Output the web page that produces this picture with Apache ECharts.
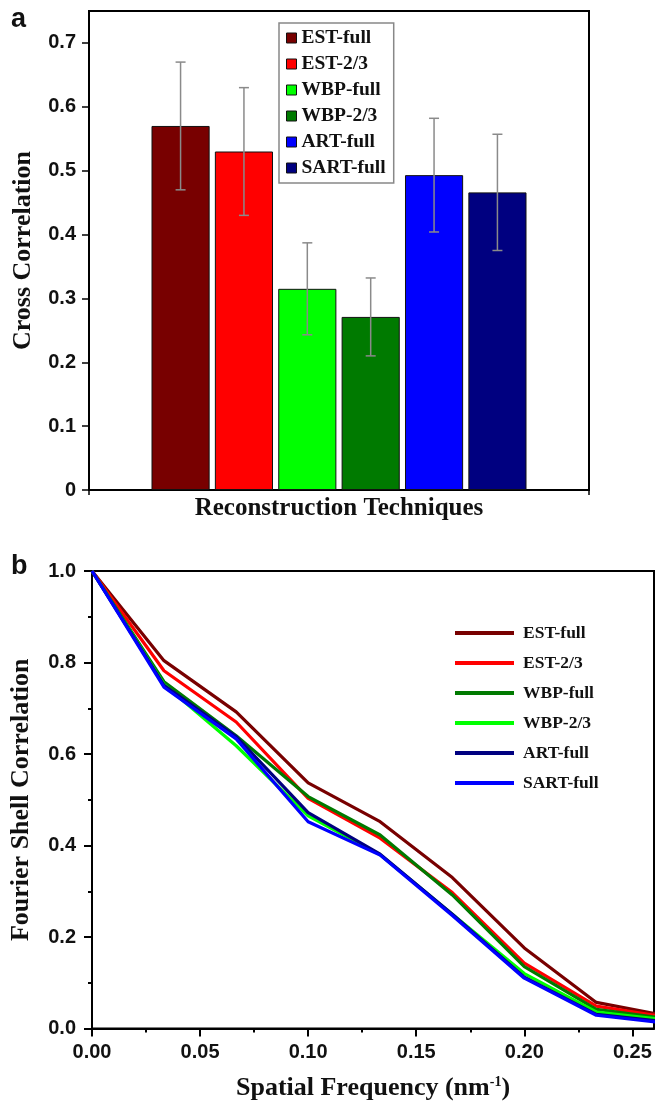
<!DOCTYPE html>
<html>
<head>
<meta charset="utf-8">
<script src="https://cdn.jsdelivr.net/npm/echarts@6/dist/echarts.min.js"></script>
<style>
html,body{margin:0;padding:0;background:#fff;}
#chart{width:655px;height:1104px;}
</style>
</head>
<body>
<div id="chart"></div>
<script>
// ---- Panel a data ----
const barNames = ['EST-full', 'EST-2/3', 'WBP-full', 'WBP-2/3', 'ART-full', 'SART-full'];
const barValues = [0.570, 0.530, 0.315, 0.271, 0.493, 0.466];
const barErrors = [0.100, 0.100, 0.072, 0.061, 0.089, 0.091];
const yTicksA = [0, 0.1, 0.2, 0.3, 0.4, 0.5, 0.6, 0.7];

// ---- Panel b data ----
const lineNames = ['EST-full', 'EST-2/3', 'WBP-full', 'WBP-2/3', 'ART-full', 'SART-full'];
const freq = [0, 0.0333, 0.0667, 0.1, 0.1333, 0.1667, 0.2, 0.2333, 0.2667];
const fscESTfull  = [1.0, 0.804, 0.692, 0.537, 0.452, 0.330, 0.176, 0.057, 0.027];
const fscEST23    = [1.0, 0.782, 0.670, 0.503, 0.416, 0.297, 0.143, 0.049, 0.024];
const fscWBPfull  = [1.0, 0.758, 0.640, 0.507, 0.423, 0.292, 0.135, 0.042, 0.021];
const fscWBP23    = [1.0, 0.752, 0.618, 0.465, 0.380, 0.250, 0.120, 0.036, 0.018];
const fscARTfull  = [1.0, 0.750, 0.638, 0.472, 0.381, 0.250, 0.112, 0.031, 0.014];
const fscSARTfull = [1.0, 0.746, 0.633, 0.452, 0.379, 0.247, 0.110, 0.029, 0.011];
const xTicksB = [0, 0.05, 0.10, 0.15, 0.20, 0.25];

// ---- styles ----
const barColors = ['#780000', '#ff0000', '#00ff00', '#007a00', '#0000ff', '#000080'];
const lineColors = ['#780000', '#ff0000', '#007a00', '#00ff00', '#000080', '#0000ff'];
const SERIF = "'Liberation Serif', 'Times New Roman', serif";
const SANS = "'Liberation Sans', Arial, sans-serif";
const BAR_GAP = 0.09, CAT_GAP = 0.25;

const fscSeries = [fscESTfull, fscEST23, fscWBPfull, fscWBP23, fscARTfull, fscSARTfull];

const chart = echarts.init(document.getElementById('chart'), null, {renderer: 'canvas'});

const series = [];
barNames.forEach((n, i) => {
  series.push({
    name: n, type: 'bar', xAxisIndex: 0, yAxisIndex: 0,
    data: [barValues[i]],
    barGap: (BAR_GAP * 100) + '%', barCategoryGap: (CAT_GAP * 100) + '%',
    itemStyle: {color: barColors[i], borderColor: '#111', borderWidth: 1},
    emphasis: {disabled: true}
  });
});
series.push({
  name: 'errors', type: 'custom', xAxisIndex: 0, yAxisIndex: 0, z: 5,
  data: barValues.map((v, i) => [0, v, barErrors[i], i]),
  renderItem: function (params, api) {
    const idx = api.value(3);
    const n = barNames.length;
    const center = api.coord([api.value(0), api.value(1)]);
    const band = api.size([1, 0])[0];
    const used = band * (1 - CAT_GAP);
    const bw = used / (n + (n - 1) * BAR_GAP);
    const x = center[0] - used / 2 + idx * bw * (1 + BAR_GAP) + bw / 2;
    const hi = api.coord([api.value(0), api.value(1) + api.value(2)])[1];
    const lo = api.coord([api.value(0), api.value(1) - api.value(2)])[1];
    const st = {stroke: '#8a8a8a', lineWidth: 1.5};
    return {type: 'group', children: [
      {type: 'line', shape: {x1: x, y1: hi, x2: x, y2: lo}, style: st},
      {type: 'line', shape: {x1: x - 5, y1: hi, x2: x + 5, y2: hi}, style: st},
      {type: 'line', shape: {x1: x - 5, y1: lo, x2: x + 5, y2: lo}, style: st}
    ]};
  }
});
lineNames.forEach((n, i) => {
  series.push({
    name: n, type: 'line', xAxisIndex: 1, yAxisIndex: 1,
    data: freq.map((f, j) => [f, fscSeries[i][j]]),
    symbol: 'none', lineStyle: {color: lineColors[i], width: 3.2},
    itemStyle: {color: lineColors[i], borderWidth: 0},
    emphasis: {disabled: true}
  });
});

const axisLabelStyle = {fontFamily: SANS, fontWeight: 'bold', fontSize: 20, color: '#111'};
const nameStyle = {fontFamily: SERIF, fontWeight: 'bold', fontSize: 26, color: '#111'};

const option = {
  animation: false,
  backgroundColor: '#fff',
  graphic: [
    {type: 'text', left: 11, top: 6, style: {text: 'a', font: 'bold 27px ' + SANS, fill: '#111'}},
    {type: 'text', left: 11, top: 553, style: {text: 'b', font: 'bold 27px ' + SANS, fill: '#111'}}
  ],
  grid: [
    {left: 89, top: 11, width: 500, height: 479, show: true, borderColor: '#000', borderWidth: 2, backgroundColor: 'transparent'},
    {left: 92, top: 571, width: 562, height: 457.5, show: true, borderColor: '#000', borderWidth: 2, backgroundColor: 'transparent'}
  ],
  legend: [
    {
      data: barNames.map((n, i) => ({name: n, itemStyle: {color: barColors[i], borderColor: '#111', borderWidth: 1}})),
      orient: 'vertical', left: 279, top: 23,
      itemWidth: 10, itemHeight: 10, itemGap: 6, icon: 'rect',
      padding: [5, 8, 5, 7],
      borderColor: '#888', borderWidth: 1.5, backgroundColor: '#fff',
      textStyle: {fontFamily: SERIF, fontWeight: 'bold', fontSize: 19.5, color: '#111'},
      selectedMode: false
    },
    {
      data: lineNames.map((n, i) => ({name: n, itemStyle: {color: lineColors[i], borderWidth: 0}})),
      orient: 'vertical', left: 450, top: 619,
      itemWidth: 59, itemHeight: 4, itemGap: 12, icon: 'rect',
      itemStyle: {borderWidth: 0},
      lineStyle: {width: 0},
      textStyle: {fontFamily: SERIF, fontWeight: 'bold', fontSize: 17.5, color: '#111', padding: [0, 0, 0, 4]},
      selectedMode: false
    }
  ],
  xAxis: [
    {
      gridIndex: 0, type: 'category', data: [''],
      axisLine: {show: true, lineStyle: {color: '#000', width: 2}},
      axisTick: {show: true, length: 5, lineStyle: {color: '#000', width: 1.5}},
      axisLabel: {show: false},
      splitLine: {show: false},
      name: 'Reconstruction Techniques', nameLocation: 'middle', nameGap: 6,
      nameTextStyle: Object.assign({}, nameStyle, {fontSize: 25})
    },
    {
      gridIndex: 1, type: 'value', min: 0, max: 0.26, interval: 0.05,
      axisLine: {show: true, lineStyle: {color: '#000', width: 2}},
      axisTick: {show: true, length: 8, customValues: xTicksB, lineStyle: {color: '#000', width: 2}},
      minorTick: {show: true, splitNumber: 2, length: 4, lineStyle: {color: '#000', width: 2}},
      axisLabel: Object.assign({customValues: xTicksB, margin: 14, formatter: v => v.toFixed(2)}, axisLabelStyle),
      splitLine: {show: false},
      name: 'Spatial Frequency (nm{sup|-1})', nameLocation: 'middle', nameGap: 47,
      nameTextStyle: Object.assign({}, nameStyle, {
        rich: {sup: {fontFamily: SERIF, fontWeight: 'bold', fontSize: 14, color: '#111', verticalAlign: 'top', padding: [0, 0, 10, 0]}}
      })
    }
  ],
  yAxis: [
    {
      gridIndex: 0, type: 'value', min: 0, max: 0.75, interval: 0.1,
      axisLine: {show: true, lineStyle: {color: '#000', width: 2}},
      axisTick: {show: true, length: 7, customValues: yTicksA, lineStyle: {color: '#000', width: 1.5}},
      axisLabel: Object.assign({customValues: yTicksA, margin: 13}, axisLabelStyle),
      splitLine: {show: false},
      name: 'Cross Correlation', nameLocation: 'middle', nameGap: 53,
      nameTextStyle: nameStyle
    },
    {
      gridIndex: 1, type: 'value', min: 0, max: 1, interval: 0.2,
      axisLine: {show: true, lineStyle: {color: '#000', width: 2}},
      axisTick: {show: true, length: 8, lineStyle: {color: '#000', width: 2}},
      minorTick: {show: true, splitNumber: 2, length: 4, lineStyle: {color: '#000', width: 2}},
      axisLabel: Object.assign({margin: 16, formatter: v => v.toFixed(1)}, axisLabelStyle),
      splitLine: {show: false},
      name: 'Fourier Shell Correlation', nameLocation: 'middle', nameGap: 58,
      nameTextStyle: nameStyle
    }
  ],
  series: series
};
chart.setOption(option);
</script>
</body>
</html>
